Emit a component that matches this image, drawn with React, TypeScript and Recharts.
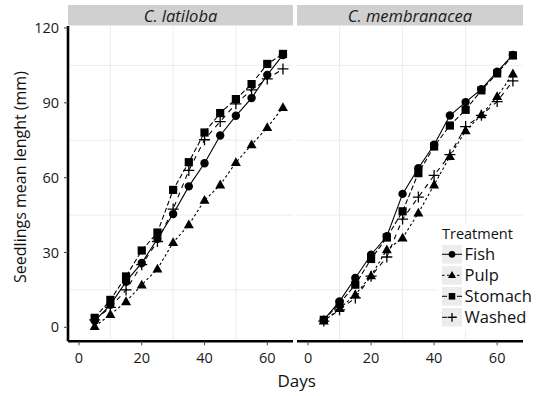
import { LineChart, Line, XAxis, YAxis, ReferenceLine } from "recharts";

const days = [5, 10, 15, 20, 25, 30, 35, 40, 45, 50, 55, 60, 65];

// C. latiloba
const latFish = [2.6, 9.0, 18.3, 25.8, 35.5, 45.4, 56.5, 65.8, 76.9, 84.8, 91.9, 101.2, 109.2];
const latPulp = [0.3, 5.1, 10.3, 17.0, 23.4, 34.0, 41.1, 50.9, 57.1, 66.1, 73.2, 80.1, 88.1];
const latStomach = [3.8, 11.0, 20.4, 30.8, 38.0, 55.1, 66.2, 78.1, 85.9, 91.5, 97.5, 105.6, 109.6];
const latWashed = [3.0, 8.0, 15.0, 25.1, 34.4, 47.4, 62.9, 75.2, 82.5, 89.6, 95.2, 99.6, 103.6];

// C. membranacea
const memFish = [3.0, 10.4, 19.8, 29.1, 36.5, 53.5, 63.8, 73.2, 84.9, 90.3, 95.5, 102.5, 109.2];
const memPulp = [2.5, 7.5, 13.1, 20.7, 31.1, 35.8, 45.8, 57.1, 68.5, 78.8, 85.2, 92.5, 101.6];
const memStomach = [3.0, 9.5, 17.1, 27.4, 36.0, 46.5, 61.8, 72.5, 80.9, 87.2, 95.0, 101.8, 109.0];
const memWashed = [2.5, 7.0, 11.8, 20.5, 28.2, 43.4, 52.2, 60.9, 69.2, 80.5, 85.0, 90.5, 98.8];

const panels = ["C. latiloba", "C. membranacea"];
const treatments = ["Fish", "Pulp", "Stomach", "Washed"];
const xTicks = [0, 20, 40, 60];
const yTicks = [0, 30, 60, 90, 120];
const xMinor = [10, 30, 50];
const yMinor = [15, 45, 75, 105];

const FONT = '"Open Sans", "DejaVu Sans", sans-serif';

type Shape = "circle" | "triangle" | "square" | "plus";

const styles: { key: string; dash?: string; shape: Shape }[] = [
  { key: "Fish", dash: undefined, shape: "circle" },
  { key: "Pulp", dash: "2.5 2.5", shape: "triangle" },
  { key: "Stomach", dash: "5 2.5", shape: "square" },
  { key: "Washed", dash: "5 5", shape: "plus" },
];

const makeRows = (f: number[], p: number[], s: number[], w: number[]) =>
  days.map((d, i) => ({ day: d, Fish: f[i], Pulp: p[i], Stomach: s[i], Washed: w[i] }));

const latRows = makeRows(latFish, latPulp, latStomach, latWashed);
const memRows = makeRows(memFish, memPulp, memStomach, memWashed);

function Marker({ cx, cy, shape, k = 1 }: { cx: number; cy: number; shape: Shape; k?: number }) {
  if (cx == null || cy == null) return null;
  if (shape === "circle") return <circle cx={cx} cy={cy} r={4.2 * k} fill="#000" />;
  if (shape === "square")
    return <rect x={cx - 4.1 * k} y={cy - 4.1 * k} width={8.2 * k} height={8.2 * k} fill="#000" />;
  if (shape === "triangle")
    return (
      <polygon
        points={`${cx},${cy - 5.3 * k} ${cx + 5 * k},${cy + 3.5 * k} ${cx - 5 * k},${cy + 3.5 * k}`}
        fill="#000"
      />
    );
  return (
    <g stroke="#000" strokeWidth={1.3}>
      <line x1={cx - 5.5 * k} x2={cx + 5.5 * k} y1={cy} y2={cy} />
      <line x1={cx} x2={cx} y1={cy - 5.5 * k} y2={cy + 5.5 * k} />
    </g>
  );
}

const dotFor = (shape: Shape, name: string) => (props: any) =>
  <Marker key={`${name}-${props.index}`} cx={props.cx} cy={props.cy} shape={shape} />;

function Panel({ rows, left, width, showY }: { rows: any[]; left: number; width: number; showY: boolean }) {
  return (
    <div style={{ position: "absolute", left, top: 0 }}>
      <LineChart width={width} height={396} data={rows} margin={{ top: 26, right: 0, bottom: 24.7, left: 0 }}>
        <XAxis
          dataKey="day"
          type="number"
          domain={[-3.5, 68.2]}
          allowDataOverflow
          ticks={xTicks}
          height={30}
          tickSize={4}
          tickMargin={7}
          axisLine={{ stroke: "#000", strokeWidth: 2.6 }}
          tickLine={{ stroke: "#444" }}
          tick={{ fill: "#1a1a1a", fontSize: 14.5, fontFamily: FONT }}
        />
        <YAxis
          hide={!showY}
          width={showY ? 68 : 0}
          type="number"
          domain={[-5.6, 120.8]}
          allowDataOverflow
          ticks={yTicks}
          tickSize={4}
          tickMargin={5}
          axisLine={{ stroke: "#000", strokeWidth: 2.6 }}
          tickLine={{ stroke: "#444" }}
          tick={{ fill: "#1a1a1a", fontSize: 14.5, fontFamily: FONT }}
        />
        {xMinor.map((v) => (
          <ReferenceLine key={`vx${v}`} x={v} stroke="#ececec" strokeWidth={1} />
        ))}
        {yMinor.map((v) => (
          <ReferenceLine key={`hy${v}`} y={v} stroke="#ececec" strokeWidth={1} />
        ))}
        {styles.map((s) => (
          <Line
            key={`l-${s.key}`}
            dataKey={s.key}
            stroke="#000"
            strokeWidth={1.1}
            strokeDasharray={s.dash}
            dot={false}
            activeDot={false}
            isAnimationActive={false}
          />
        ))}
        {styles.map((s) => (
          <Line
            key={`p-${s.key}`}
            dataKey={s.key}
            stroke="none"
            dot={dotFor(s.shape, s.key)}
            activeDot={false}
            isAnimationActive={false}
          />
        ))}
      </LineChart>
    </div>
  );
}

function Legend() {
  return (
    <svg
      width={106}
      height={106}
      style={{ position: "absolute", left: 437, top: 224, fontFamily: FONT }}
    >
      <rect x={0} y={0} width={106} height={106} fill="#fff" />
      <text x={5} y={15} fontSize={14.5} fill="#111">
        Treatment
      </text>
      {styles.map((s, i) => {
        const y0 = 21 + i * 21;
        const cy = y0 + 9.3;
        return (
          <g key={s.key}>
            <rect x={5} y={y0} width={20} height={18.6} fill="#ececec" />
            <line x1={5} x2={25} y1={cy} y2={cy} stroke="#000" strokeWidth={1} strokeDasharray={s.dash} />
            <Marker cx={15} cy={cy} shape={s.shape} k={0.8} />
            <text x={27.5} y={36 + i * 21} fontSize={16.5} fill="#111">
              {treatments[i]}
            </text>
          </g>
        );
      })}
    </svg>
  );
}

export default function App() {
  return (
    <div style={{ position: "absolute", left: 0, top: 0, width: 543, height: 396, background: "#fff" }}>
      <svg width={543} height={396} style={{ position: "absolute", left: 0, top: 0, fontFamily: FONT }}>
        <rect x={68} y={5} width={225} height={20.5} fill="#d0d0d0" />
        <rect x={297} y={5} width={226} height={20.5} fill="#d0d0d0" />
        <text x={180.5} y={15.5} fontSize={16.5} fontStyle="italic" textAnchor="middle" dominantBaseline="central" fill="#1a1a1a">
          {panels[0]}
        </text>
        <text x={410} y={15.5} fontSize={16.5} fontStyle="italic" textAnchor="middle" dominantBaseline="central" fill="#1a1a1a">
          {panels[1]}
        </text>
        <text x={296.6} y={380} fontSize={17} textAnchor="middle" dominantBaseline="central" fill="#111">
          Days
        </text>
        <text
          x={20}
          y={177}
          fontSize={16}
          textAnchor="middle"
          dominantBaseline="central"
          fill="#111"
          transform="rotate(-90 20 177)"
        >
          Seedlings mean lenght (mm)
        </text>
      </svg>
      <Panel rows={latRows} left={0} width={293} showY={true} />
      <Panel rows={memRows} left={297} width={226} showY={false} />
      <Legend />
    </div>
  );
}
